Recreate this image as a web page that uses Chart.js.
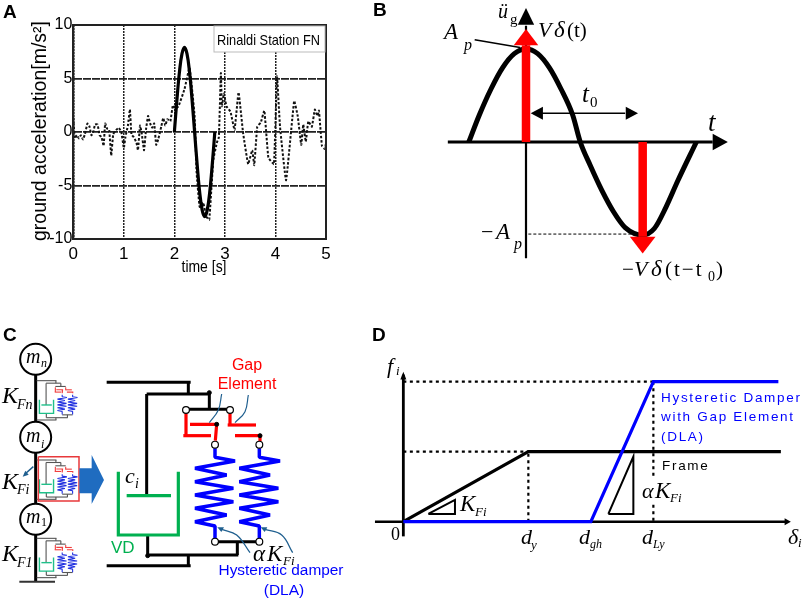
<!DOCTYPE html>
<html><head><meta charset="utf-8">
<script src="https://cdn.jsdelivr.net/npm/chart.js@4/dist/chart.umd.min.js"></script>
<style>html,body{margin:0;padding:0;background:#fff;width:803px;height:600px;overflow:hidden}
canvas{position:absolute;display:block}</style></head><body>
<canvas id="a" style="left:0;top:0" width="345" height="290"></canvas>
<canvas id="b" style="left:370px;top:0" width="433" height="300"></canvas>
<canvas id="c" style="left:0;top:320px" width="360" height="280"></canvas>
<canvas id="d" style="left:360px;top:320px" width="443" height="280"></canvas>
<script>
// ---------- Panel A data ----------
const timeRecorded=[0,0.03,0.07,0.11,0.15,0.19,0.23,0.28,0.32,0.36,0.40,0.43,0.48,0.52,0.56,0.60,0.63,0.67,0.71,0.75,0.79,0.85,0.90,0.95,1.00,1.03,1.08,1.12,1.15,1.20,1.25,1.28,1.32,1.35,1.40,1.44,1.48,1.52,1.56,1.60,1.64,1.68,1.74,1.78,1.82,1.86,1.92,1.97,2.02,2.08,2.20,2.30,2.40,2.44,2.50,2.57,2.63,2.69,2.77,2.84,2.88,2.92,2.94,2.98,3.03,3.11,3.19,3.27,3.36,3.46,3.54,3.58,3.64,3.71,3.78,3.86,3.97,4.03,4.09,4.21,4.37,4.44,4.51,4.55,4.60,4.65,4.72,4.78,4.83,4.86,4.92,4.98,5.00];
const accelRecorded=[1.3,-0.6,-0.3,-0.6,-0.3,-0.7,-0.2,0.8,0.5,-0.3,0.1,0.7,0.7,-0.3,-0.5,-1.3,0.8,0.3,0.2,-2.2,-0.2,0.2,0.4,0,-1.5,-0.5,0.6,2.1,-0.2,-0.5,-1,-1.7,0.6,0,-1.7,0.3,1.5,0.8,0.4,0.8,-1.2,-0.7,0.5,1.3,0.6,1.2,1,2.5,2.2,2.4,4,6,1.5,-3.8,-7,-6.6,-7.9,-8.2,-2.6,-1,-0.5,5.5,2.4,3.6,2.4,1.9,0.2,3.7,-0.1,-3,-1.7,-3.1,0.5,0.9,2,-2.4,-3,5.2,0.5,-4.5,2.9,1.5,-1.2,0.7,-0.9,1,0.5,2.1,1.5,2,-1.3,-1.6,-1];
const timePulse=[2,2.05,2.1,2.15,2.2,2.25,2.3,2.35,2.4,2.45,2.5,2.55,2.6,2.65,2.7,2.75,2.8];
const accelPulse=[0,3,5.6,7.3,7.9,7.3,5.6,3,0,-3,-5.6,-7.3,-7.9,-7.3,-5.6,-3,0];
const legendText="Rinaldi Station FN";
const titleTime="time [s]", titleAccel="ground acceleration[m/s²]";

// ---------- Panel B data (t in units of t0, acceleration in units of Ap) ----------
const pulseT=[-0.49,-0.4,-0.3,-0.2,-0.1,0,0.1,0.2,0.3,0.4,0.465,0.55,0.65,0.75,0.85,1,1.1,1.2,1.3,1.46];
const pulseA=[0,0.29,0.57,0.8,0.95,1,0.95,0.8,0.57,0.29,0,-0.25,-0.52,-0.75,-0.92,-1,-0.93,-0.7,-0.42,0];

// ---------- Panel D data (displacement in units of dy, force in units of frame yield) ----------
const frameCurve=[[0,0],[1,1],[3.02,1]];
const damperCurve=[[0,0],[1.5,0],[2,2],[3,2]];

// ---------- Panel C schematic, in schematic units ----------
const blackLines=[[[320,187],[572,187]],[[565,187],[565,222]],[[440,222],[628,222]],[[440,222],[440,527]],[[628,222],[628,268]],[[558,268],[690,268]],[[320,737],[572,737]],[[565,705],[565,737]],[[443,705],[715,705]],[[443,645],[443,705]],[[712,665],[712,705]],[[645,665],[778,665]]];
const redLines=[[[558,280],[558,347]],[[550,347],[633,347]],[[570,313],[650,313],[646,362]],[[690,280],[690,315]],[[683,315],[768,315]],[[705,347],[780,347],[780,364]]];
const greenLines=[[[355,455],[355,645],[535,645],[535,455]],[[380,527],[513,527]]];
const springOne=[[645,385],[645,412],[705,423],[585,445],[680,465],[585,485],[700,505],[585,525],[700,545],[585,565],[680,585],[585,605],[645,618],[645,660]];
const springTwo=[[778,385],[778,412],[840,423],[718,445],[810,465],[718,485],[835,505],[718,525],[835,545],[718,565],[810,585],[718,605],[778,618],[778,660]];
const joints=[[558,270],[690,270],[645,374],[778,374],[645,665],[778,665]];
const smallDots=[[628,218],[443,707],[650,313],[780,347]];
const masses=[[107,118],[107,352],[107,598]];
const miniOrigins=[182,420,655];

const SANS='"Liberation Sans",Arial,sans-serif', SERIF='"Liberation Serif","Times New Roman",serif';
const zip=(xs,ys)=>xs.map((x,i)=>({x,y:ys[i]}));
const seg=(pts,color,w,extra)=>({data:pts.map(([x,y])=>({x,y})),borderColor:color,borderWidth:w,pointRadius:0,showLine:true,fill:false,tension:0,...extra});
const poly=(pts,color)=>seg(pts.concat([pts[0]]),color,0,{fill:'shape',backgroundColor:color});
const ordered=ds=>ds.map((d,i)=>({...d,order:-i}));
const labelsPlugin=(labels,ox,oy)=>({id:'labels',afterDraw(ch){const c=ch.ctx;c.save();
  for(const l of labels){c.font=l.f;c.fillStyle=l.c||'#000';c.textAlign=l.a||'left';c.textBaseline='middle';
    c.letterSpacing=l.ls||'0px';
    if(l.rot){c.save();c.translate(l.x-ox,l.y-oy);c.rotate(l.rot);c.fillText(l.t,0,0,l.w);c.restore();}
    else if(l.w)c.fillText(l.t,l.x-ox,l.y-oy,l.w);else c.fillText(l.t,l.x-ox,l.y-oy);}
  c.restore();}});
const diagram=(id,datasets,xr,yr,labels,ox,oy,rev)=>new Chart(document.getElementById(id),{type:'scatter',
  data:{datasets:ordered(datasets)},
  options:{responsive:false,animation:false,events:[],layout:{padding:0,autoPadding:false},
    plugins:{legend:{display:false},tooltip:{enabled:false}},
    scales:{x:{type:'linear',display:false,min:xr[0],max:xr[1]},y:{type:'linear',display:false,min:yr[0],max:yr[1],reverse:!!rev}}},
  plugins:[labelsPlugin(labels,ox,oy)]});

// ---------- Panel A ----------
const boxA={id:'boxA',afterDraw(ch){const c=ch.ctx,a=ch.chartArea;c.save();
  c.strokeStyle='#222';c.lineWidth=2;c.strokeRect(a.left,a.top,a.right-a.left,a.bottom-a.top);
  c.fillStyle='#fff';c.strokeStyle='#bbb';c.lineWidth=1;
  c.fillRect(214,26,111,26);c.strokeRect(214,26,111,26);
  c.restore();}};
new Chart(document.getElementById('a'),{type:'scatter',
  data:{datasets:[
    {data:zip(timePulse,accelPulse),showLine:true,borderColor:'#000',borderWidth:3.2,pointRadius:0,tension:0.4,order:0},
    {data:zip(timeRecorded,accelRecorded),showLine:true,borderColor:'#111',borderWidth:2,borderDash:[2.5,1.8],pointRadius:0,tension:0.1,order:1}]},
  options:{responsive:false,animation:false,events:[],
    layout:{padding:{left:0,top:25,right:19,bottom:0},autoPadding:false},
    plugins:{legend:{display:false},tooltip:{enabled:false}},
    scales:{
      x:{type:'linear',min:0,max:5,ticks:{stepSize:1,color:'#000',padding:5,font:{family:SANS,size:17},maxRotation:0},
         grid:{color:'#222',lineWidth:1.5,drawTicks:false},border:{color:'#222',width:2,dash:[2,1]},
         afterFit(s){s.height=51;}},
      y:{type:'linear',min:-10,max:10,ticks:{stepSize:5,color:'#000',padding:1,font:{family:SANS,size:16}},
         grid:{color:'#222',lineWidth:1.7,drawTicks:false},border:{color:'#222',width:2,dash:[8,1]},
         afterFit(s){s.width=73.3;}}
    }},
  plugins:[boxA,labelsPlugin([
    {t:'A',x:3,y:13,f:'bold 19px '+SANS},
    {t:titleAccel,x:41,y:131,f:'19.5px '+SANS,a:'center',rot:-Math.PI/2,w:224},
    {t:titleTime,x:204,y:267,f:'17px '+SANS,a:'center',w:45},
    {t:legendText,x:217,y:41,f:'15px '+SANS,w:103}],0,0)]});

// ---------- Panel B ----------
diagram('b',[
  seg(zip(pulseT,pulseA).map(p=>[p.x,p.y]),'#000',5,{cubicInterpolationMode:'monotone'}),
  seg([[0,-1.25],[0,1.25]],'#000',2.2),
  poly([[0,1.44],[-0.07,1.26],[0.07,1.26]],'#000'),
  seg([[-0.67,0],[1.6,0]],'#000',3),
  poly([[1.73,0],[1.6,0.09],[1.6,-0.09]],'#000'),
  seg([[0,0],[0,1.04]],'#ff0000',8.5),
  poly([[0,1.215],[-0.105,1.04],[0.105,1.04]],'#ff0000'),
  seg([[1,0],[1,-1.02]],'#ff0000',8.5),
  poly([[1,-1.2],[-0.11+1,-1.02],[0.11+1,-1.02]],'#ff0000'),
  seg([[-0.44,1.1],[-0.05,1.015]],'#000',1.5),
  seg([[0.02,-0.99],[0.92,-0.99]],'#000',1,{borderDash:[3,2]}),
  seg([[0.08,0.31],[0.85,0.31]],'#000',1.5),
  poly([[0.04,0.31],[0.145,0.38],[0.145,0.24]],'#000'),
  poly([[0.96,0.31],[0.855,0.38],[0.855,0.24]],'#000')
],[-1.337,2.374],[-1.699,1.527],[
  {t:'B',x:373,y:11,f:'bold 19px '+SANS},
  {t:'A',x:444,y:33,f:'italic 23px '+SERIF},
  {t:'p',x:464,y:46,f:'italic 16px '+SERIF},
  {t:'ü',x:498,y:13,f:'italic 20px '+SERIF},
  {t:'g',x:510,y:20,f:'15px '+SERIF},
  {t:'V',x:538,y:31,f:'italic 22px '+SERIF},
  {t:'δ',x:554,y:31,f:'italic 23px '+SERIF},
  {t:'(t)',x:567,y:31,f:'21px '+SERIF},
  {t:'t',x:582,y:95,f:'italic 25px '+SERIF},
  {t:'0',x:590,y:103,f:'15px '+SERIF},
  {t:'t',x:708,y:124,f:'italic 27px '+SERIF},
  {t:'−',x:481,y:233,f:'22px '+SERIF},
  {t:'A',x:496,y:233,f:'italic 23px '+SERIF},
  {t:'p',x:514,y:245,f:'italic 16px '+SERIF},
  {t:'−',x:622,y:270,f:'21px '+SERIF},
  {t:'V',x:634,y:270,f:'italic 22px '+SERIF},
  {t:'δ',x:651,y:270,f:'italic 23px '+SERIF},
  {t:'(t−t',x:665,y:270,f:'21px '+SERIF,ls:'2px'},
  {t:'0',x:708,y:277,f:'14px '+SERIF},
  {t:')',x:716,y:270,f:'21px '+SERIF}
],370,0);

// ---------- Panel C ----------
const xf=(pts,oy)=>pts.map(([x,y])=>[110+(x-320)*0.2355,oy+(y-187)*0.2145]);
const miniSets=[];
for(const oy of miniOrigins){
  blackLines.forEach(l=>miniSets.push(seg(xf(l,oy),'#555',1.1)));
  greenLines.forEach(l=>miniSets.push(seg(xf(l,oy),'#1fc08a',1.4)));
  redLines.forEach(l=>miniSets.push(seg(xf(l,oy),'#f04040',1.1)));
  miniSets.push(seg(xf(springOne,oy),'#2030e0',1.1,{borderJoinStyle:'bevel'}),seg(xf(springTwo,oy),'#2030e0',1.1,{borderJoinStyle:'bevel'}));
}
const blue='#0000ff',green='#00b050',red='#ff0000',lead='#1f5f8f';
diagram('c',[
  seg([[107,164],[107,785]],'#000',3),
  seg([[58,785],[165,785]],'#333',2),
  ...miniSets,
  seg([[115,410],[237,410],[237,543],[115,543],[115,410]],'#e8393b',1.5),
  poly([[238,445],[275,445],[275,405],[312,480],[275,552],[275,520],[238,520]],'#1f6cc0'),
  seg([[100,440],[75,462]],lead,1.5),
  poly([[68,470],[76,452],[86,464]],lead),
  ...blackLines.map(l=>seg(l,'#000',3)),
  ...greenLines.map(l=>seg(l,green,3.2)),
  ...redLines.map(l=>seg(l,red,3.2)),
  seg(springOne,blue,3.5,{borderJoinStyle:'bevel'}),seg(springTwo,blue,3.5,{borderJoinStyle:'bevel'}),
  seg([[665,222],[655,270],[628,308]],lead,1.2,{tension:0.4}),
  seg([[745,225],[735,275],[705,308]],lead,1.2,{tension:0.4}),
  seg([[665,628],[710,645],[750,698]],lead,1.3,{tension:0.4}),
  poly([[652,622],[672,622],[664,636]],lead),
  seg([[795,628],[845,645],[878,698]],lead,1.3,{tension:0.4}),
  poly([[782,622],[802,622],[794,636]],lead),
  {data:joints.map(([x,y])=>({x,y})),showLine:false,pointRadius:3.4,pointBackgroundColor:'#fff',pointBorderColor:'#000',pointBorderWidth:1.2},
  {data:smallDots.map(([x,y])=>({x,y})),showLine:false,pointRadius:2,pointBackgroundColor:'#000',pointBorderColor:'#000'},
  {data:masses.map(([x,y])=>({x,y})),showLine:false,pointRadius:15.5,pointBackgroundColor:'#fff',pointBorderColor:'#000',pointBorderWidth:2}
],[0,1080],[0,840],[
  {t:'C',x:3,y:336,f:'bold 19px '+SANS},
  {t:'m',x:26,y:358,f:'italic 20px '+SERIF},
  {t:'n',x:41,y:364,f:'italic 12px '+SERIF},
  {t:'m',x:26,y:437,f:'italic 20px '+SERIF},
  {t:'i',x:41,y:445,f:'italic 12px '+SERIF},
  {t:'m',x:26,y:518,f:'italic 20px '+SERIF},
  {t:'1',x:41,y:523,f:'12px '+SERIF},
  {t:'K',x:2,y:397,f:'italic 24px '+SERIF},
  {t:'Fn',x:17,y:405,f:'italic 14px '+SERIF},
  {t:'K',x:2,y:483,f:'italic 24px '+SERIF},
  {t:'Fi',x:17,y:490,f:'italic 14px '+SERIF},
  {t:'K',x:2,y:555,f:'italic 24px '+SERIF},
  {t:'F1',x:17,y:563,f:'italic 14px '+SERIF},
  {t:'c',x:125,y:477,f:'italic 22px '+SERIF},
  {t:'i',x:135,y:484,f:'italic 14px '+SERIF},
  {t:'VD',x:111,y:548,f:'17px '+SANS,c:green},
  {t:'Gap',x:247,y:366,f:'16px '+SANS,c:red,a:'center'},
  {t:'Element',x:247,y:385,f:'16px '+SANS,c:red,a:'center'},
  {t:'α',x:253,y:555,f:'italic 23px '+SERIF},
  {t:'K',x:267,y:555,f:'italic 23px '+SERIF},
  {t:'Fi',x:283,y:562,f:'italic 13px '+SERIF},
  {t:'Hysteretic damper',x:281,y:571,f:'15.5px '+SANS,c:blue,a:'center',w:125},
  {t:'(DLA)',x:284,y:591,f:'15.5px '+SANS,c:blue,a:'center'}
],0,320,true);

// ---------- Panel D ----------
const dot='#000';
diagram('d',[
  seg([[-0.227,0],[3.06,0]],'#000',2.5),
  poly([[3.08+0.02,0],[3.05,0.05],[3.05,-0.05]],'#000'),
  seg([[0,-0.21],[0,2.1]],'#000',2.8),
  poly([[0,2.14],[-0.024,2.03],[0.024,2.03]],'#000'),
  seg([[0,2],[2,2]],dot,2.2,{borderDash:[3,3.5]}),
  seg([[0,1],[1,1]],dot,2.2,{borderDash:[3,3.5]}),
  seg([[1,0],[1,1]],dot,2.2,{borderDash:[3,3.5]}),
  seg([[2,2],[2,0.62]],dot,2.2,{borderDash:[3,3.5]}),
  seg([[2,0.24],[2,0]],dot,2.2,{borderDash:[3,3.5]}),
  seg(frameCurve,'#000',3.2),
  seg(damperCurve,blue,3.2),
  seg([[0.2,0.11],[0.413,0.31],[0.413,0.11],[0.2,0.11]],'#000',2),
  seg([[1.64,0.11],[1.84,0.929],[1.84,0.11],[1.64,0.11]],'#000',2)
],[-0.3467,3.197],[-1.119,2.881],[
  {t:'D',x:372,y:336,f:'bold 19px '+SANS},
  {t:'f',x:387,y:367,f:'italic 22px '+SERIF},
  {t:'i',x:396,y:372,f:'italic 13px '+SERIF},
  {t:'0',x:391,y:535,f:'18px '+SERIF},
  {t:'d',x:521,y:538,f:'italic 22px '+SERIF},
  {t:'y',x:531,y:546,f:'italic 13px '+SERIF},
  {t:'d',x:579,y:538,f:'italic 22px '+SERIF},
  {t:'gh',x:590,y:545,f:'italic 12px '+SERIF},
  {t:'d',x:642,y:538,f:'italic 22px '+SERIF},
  {t:'Ly',x:653,y:545,f:'italic 12px '+SERIF},
  {t:'δ',x:788,y:538,f:'italic 22px '+SERIF},
  {t:'i',x:798,y:544,f:'italic 13px '+SERIF},
  {t:'K',x:460,y:505,f:'italic 23px '+SERIF},
  {t:'Fi',x:475,y:513,f:'italic 13px '+SERIF},
  {t:'α',x:642,y:492,f:'italic 22px '+SERIF},
  {t:'K',x:655,y:492,f:'italic 23px '+SERIF},
  {t:'Fi',x:670,y:499,f:'italic 13px '+SERIF},
  {t:'Hysteretic Damper',x:661,y:398,f:'13.5px '+SANS,c:blue,ls:'1.7px'},
  {t:'with Gap Element',x:661,y:417,f:'13.5px '+SANS,c:blue,ls:'1.7px'},
  {t:'(DLA)',x:661,y:437,f:'13.5px '+SANS,c:blue,ls:'1.7px'},
  {t:'Frame',x:662,y:466,f:'13.5px '+SANS,ls:'1.7px'}
],360,320);
</script></body></html>
